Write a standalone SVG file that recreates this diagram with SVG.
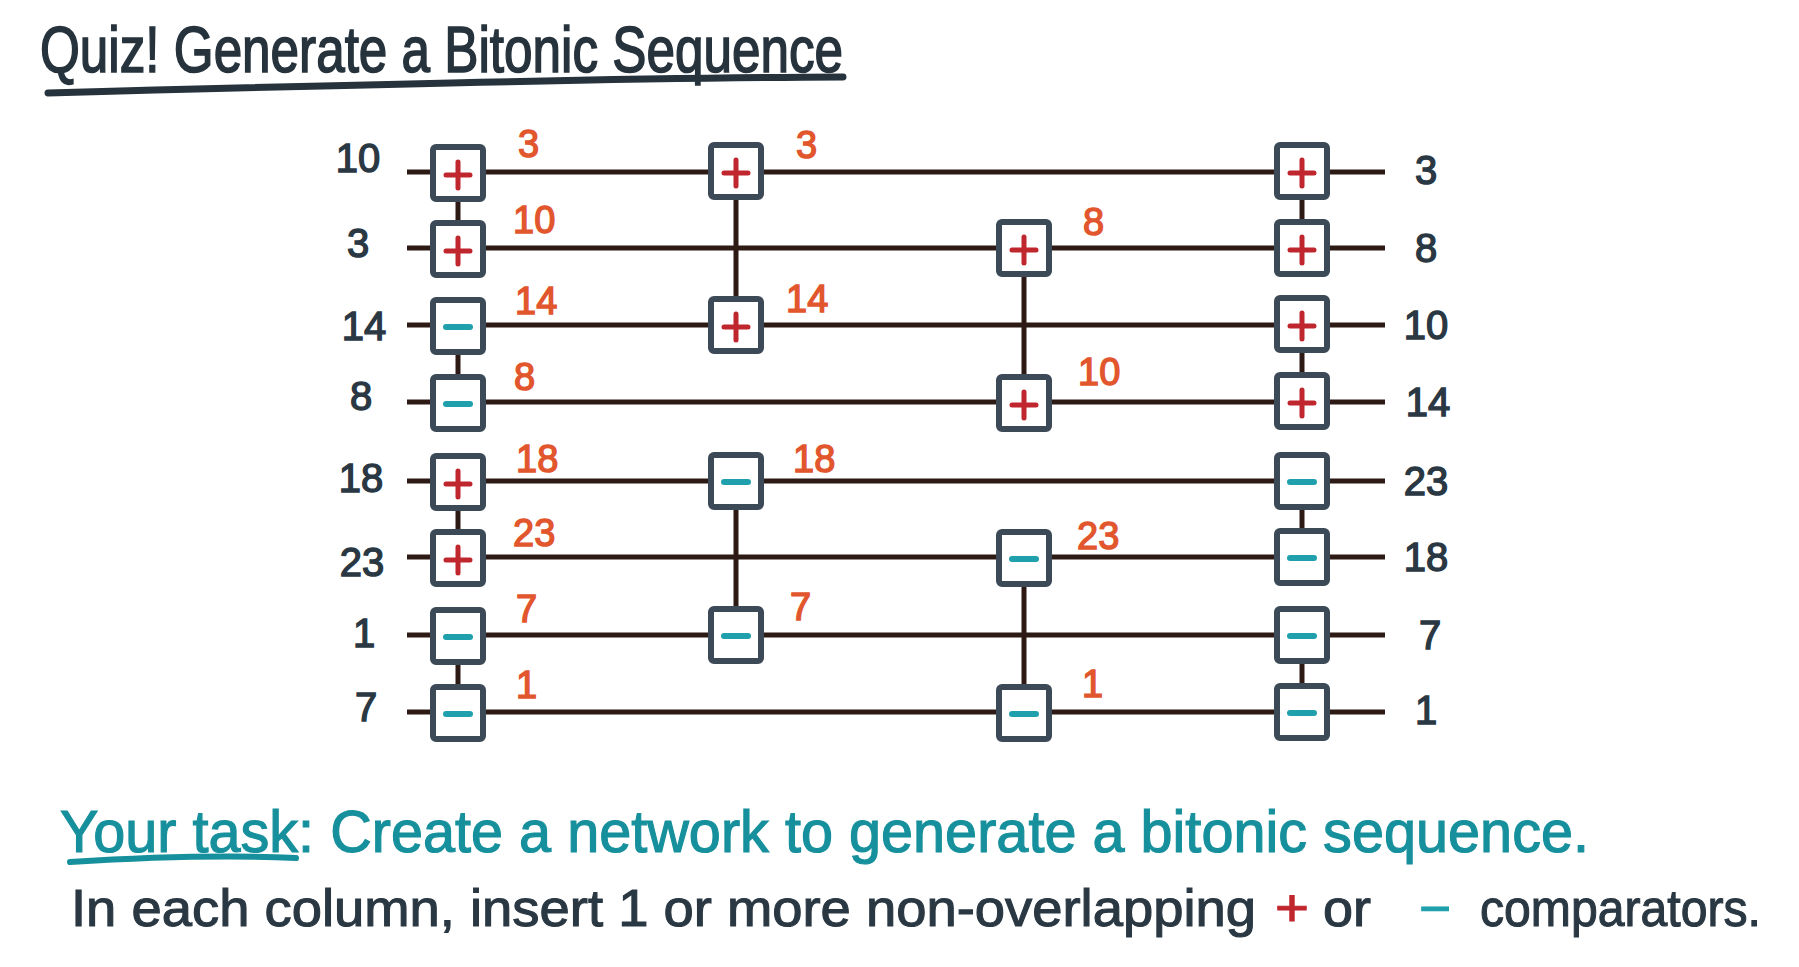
<svg xmlns="http://www.w3.org/2000/svg" width="1799" height="967" viewBox="0 0 1799 967">
<style>
.bg{fill:#ffffff}
.wire{stroke:#2d1a14;stroke-width:5;fill:none}
.vc{stroke:#2d1a14;stroke-width:5;fill:none}
.box{fill:#ffffff;stroke:#3b4a56;stroke-width:6}
.plus{stroke:#c0262d;stroke-width:5;stroke-linecap:round;fill:none}
.minus{stroke:#1fa0ac;stroke-width:6;stroke-linecap:round;fill:none}
.lbl{font-family:"Liberation Sans",Arial,sans-serif;font-size:40px;fill:#2a3843;stroke:#2a3843;stroke-width:1.4;text-anchor:middle}
.red{font-family:"Liberation Sans",Arial,sans-serif;font-size:38px;fill:#e2562e;stroke:#e2562e;stroke-width:1.4}
.title{font-family:"Liberation Sans",Arial,sans-serif;font-size:64px;fill:#26333d;stroke:#26333d;stroke-width:1.6}
.teal{font-family:"Liberation Sans",Arial,sans-serif;font-size:60px;fill:#16909c;stroke:#16909c;stroke-width:1.2}
.dark{font-family:"Liberation Sans",Arial,sans-serif;font-size:52px;fill:#2a3843;stroke:#2a3843;stroke-width:1.1}
</style>
<defs>
<g id="pl"><rect class="box" x="-25" y="-26" width="50" height="52" rx="3"/><path class="plus" d="M-12 2 H12 M0 -11 V15"/></g>
<g id="mi"><rect class="box" x="-25" y="-26" width="50" height="52" rx="3"/><path class="minus" d="M-12 1 H12"/></g>
</defs>
<rect class="bg" x="0" y="0" width="1799" height="967"/>

<g id="title">
<text class="title" x="40" y="72" textLength="803" lengthAdjust="spacingAndGlyphs">Quiz! Generate a Bitonic Sequence</text>
<path d="M48 93 C300 86 600 78 843 77" stroke="#26333d" stroke-width="7" stroke-linecap="round" fill="none"/>
</g>

<g id="connectors">
<line class="wire" x1="407" y1="172" x2="1385" y2="172"/>
<line class="wire" x1="407" y1="248" x2="1385" y2="248"/>
<line class="wire" x1="407" y1="325" x2="1385" y2="325"/>
<line class="wire" x1="407" y1="402" x2="1385" y2="402"/>
<line class="wire" x1="407" y1="481" x2="1385" y2="481"/>
<line class="wire" x1="407" y1="557" x2="1385" y2="557"/>
<line class="wire" x1="407" y1="635" x2="1385" y2="635"/>
<line class="wire" x1="407" y1="712" x2="1385" y2="712"/>
<line class="vc" x1="458" y1="172" x2="458" y2="248"/>
<line class="vc" x1="458" y1="325" x2="458" y2="402"/>
<line class="vc" x1="458" y1="481" x2="458" y2="557"/>
<line class="vc" x1="458" y1="635" x2="458" y2="712"/>
<line class="vc" x1="736" y1="172" x2="736" y2="325"/>
<line class="vc" x1="736" y1="481" x2="736" y2="635"/>
<line class="vc" x1="1024" y1="248" x2="1024" y2="402"/>
<line class="vc" x1="1024" y1="557" x2="1024" y2="712"/>
<line class="vc" x1="1302" y1="172" x2="1302" y2="248"/>
<line class="vc" x1="1302" y1="325" x2="1302" y2="402"/>
<line class="vc" x1="1302" y1="481" x2="1302" y2="557"/>
<line class="vc" x1="1302" y1="635" x2="1302" y2="712"/>
</g>

<g id="col1">
<use href="#pl" x="458" y="173"/>
<use href="#pl" x="458" y="249"/>
<use href="#mi" x="458" y="326"/>
<use href="#mi" x="458" y="403"/>
<use href="#pl" x="458" y="482"/>
<use href="#pl" x="458" y="558"/>
<use href="#mi" x="458" y="636"/>
<use href="#mi" x="458" y="713"/>
</g>
<g id="col2">
<use href="#pl" x="736" y="171"/>
<use href="#pl" x="736" y="325"/>
<use href="#mi" x="736" y="481"/>
<use href="#mi" x="736" y="635"/>
</g>
<g id="col3">
<use href="#pl" x="1024" y="248"/>
<use href="#pl" x="1024" y="403"/>
<use href="#mi" x="1024" y="558"/>
<use href="#mi" x="1024" y="713"/>
</g>
<g id="col4">
<use href="#pl" x="1302" y="171"/>
<use href="#pl" x="1302" y="248"/>
<use href="#pl" x="1302" y="324"/>
<use href="#pl" x="1302" y="401"/>
<use href="#mi" x="1302" y="481"/>
<use href="#mi" x="1302" y="557"/>
<use href="#mi" x="1302" y="635"/>
<use href="#mi" x="1302" y="712"/>
</g>

<g id="inputs">
<text class="lbl" x="358" y="172">10</text>
<text class="lbl" x="358" y="257">3</text>
<text class="lbl" x="364" y="340">14</text>
<text class="lbl" x="361" y="410">8</text>
<text class="lbl" x="361" y="492">18</text>
<text class="lbl" x="362" y="576">23</text>
<text class="lbl" x="364" y="647">1</text>
<text class="lbl" x="366" y="721">7</text>
</g>
<g id="outputs">
<text class="lbl" x="1426" y="184">3</text>
<text class="lbl" x="1426" y="262">8</text>
<text class="lbl" x="1426" y="339">10</text>
<text class="lbl" x="1428" y="416">14</text>
<text class="lbl" x="1426" y="495">23</text>
<text class="lbl" x="1426" y="571">18</text>
<text class="lbl" x="1430" y="649">7</text>
<text class="lbl" x="1426" y="724">1</text>
</g>

<g id="stage1">
<text class="red" x="518" y="157">3</text>
<text class="red" x="513" y="233">10</text>
<text class="red" x="515" y="314">14</text>
<text class="red" x="514" y="390">8</text>
<text class="red" x="516" y="472">18</text>
<text class="red" x="513" y="546">23</text>
<text class="red" x="516" y="622">7</text>
<text class="red" x="516" y="698">1</text>
</g>
<g id="stage2">
<text class="red" x="796" y="158">3</text>
<text class="red" x="786" y="312">14</text>
<text class="red" x="793" y="472">18</text>
<text class="red" x="790" y="620">7</text>
</g>
<g id="stage3">
<text class="red" x="1083" y="235">8</text>
<text class="red" x="1078" y="385">10</text>
<text class="red" x="1077" y="549">23</text>
<text class="red" x="1082" y="697">1</text>
</g>

<g id="task">
<text class="teal" x="60" y="852" textLength="1529" lengthAdjust="spacingAndGlyphs">Your task: Create a network to generate a bitonic sequence.</text>
<path d="M70 862 C150 857 230 855 296 858" stroke="#16909c" stroke-width="6" stroke-linecap="round" fill="none"/>
</g>
<g id="instructions">
<text class="dark" x="71" y="926" textLength="1185" lengthAdjust="spacingAndGlyphs">In each column, insert 1 or more non-overlapping</text>
<text class="dark" x="1275" y="926" style="fill:#c0262d;stroke:#c0262d" textLength="34" lengthAdjust="spacingAndGlyphs">+</text>
<text class="dark" x="1323" y="926" textLength="48" lengthAdjust="spacingAndGlyphs">or</text>
<text class="dark" x="1419" y="926" style="fill:#1fa0ac;stroke:#1fa0ac" textLength="32" lengthAdjust="spacingAndGlyphs">−</text>
<text class="dark" x="1480" y="926" textLength="281" lengthAdjust="spacingAndGlyphs">comparators.</text>
</g>
</svg>
